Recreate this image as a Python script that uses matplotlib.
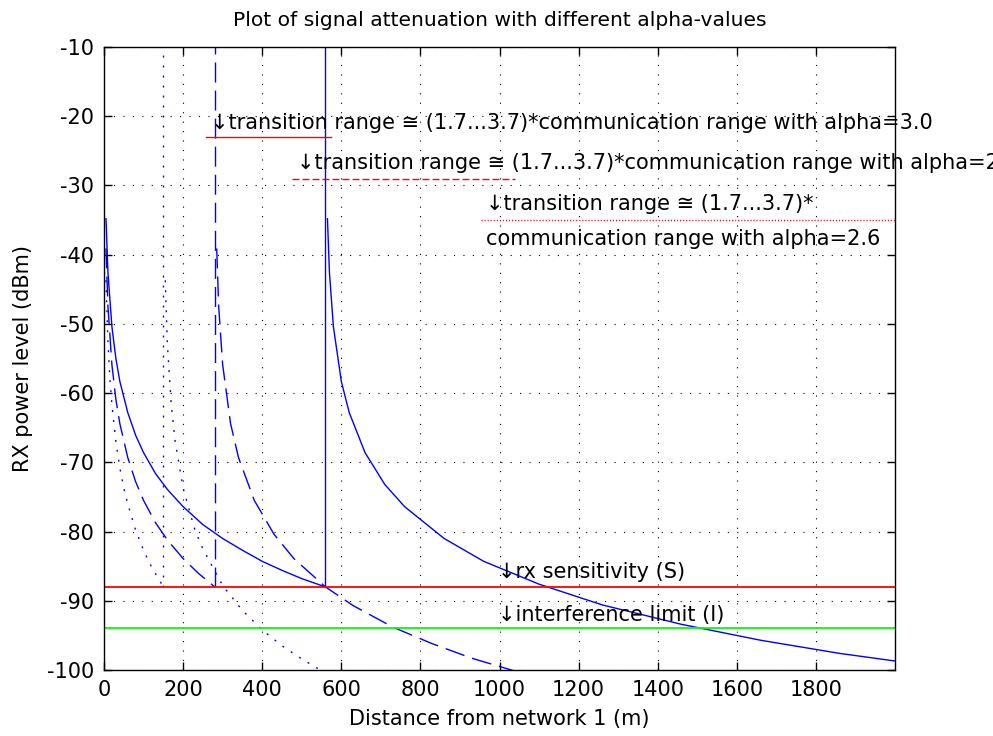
import matplotlib
matplotlib.use("Agg")
import matplotlib.pyplot as plt
import matplotlib.transforms as mtransforms

# ---------------- data ----------------
# curves left of communication range (signal from network 1)
x_solid_left = [5, 10, 20, 30, 40, 60, 80, 100, 130, 160, 200, 250, 300, 350, 400, 450, 500, 560]
y_solid_left = [-34.8, -42.6, -50.4, -55.0, -58.3, -62.8, -66.1, -68.6, -71.6, -73.9, -76.4,
                -79.0, -81.0, -82.7, -84.3, -85.6, -86.8, -88.0]

x_dashed_left = [5, 10, 20, 30, 40, 60, 80, 100, 130, 160, 200, 240, 280]
y_dashed_left = [-39.1, -47.5, -55.9, -60.9, -64.4, -69.3, -72.8, -75.5, -78.7, -81.2, -83.9, -86.1, -88.0]

x_dotted_left = [5, 10, 15, 20, 30, 40, 50, 60, 80, 100, 120, 150]
y_dotted_left = [-43.7, -52.7, -58.0, -61.7, -67.0, -70.8, -73.7, -76.0, -79.8, -82.7, -85.1, -88.0]

# curves right of communication range
x_solid_right = [565, 570, 580, 600, 620, 660, 710, 760, 860, 960, 1100, 1260, 1460, 1660, 1860, 2000]
y_solid_right = [-34.8, -42.6, -50.4, -58.3, -62.8, -68.6, -73.2, -76.4, -81.0, -84.3, -87.6,
                 -90.6, -93.4, -95.7, -97.6, -98.7]

x_dashed_right = [285, 290, 300, 320, 340, 380, 430, 480, 560, 630, 730, 830, 930, 1030, 1080]
y_dashed_right = [-39.1, -47.5, -55.9, -64.4, -69.3, -75.5, -80.4, -83.9, -88.0, -90.7, -93.8,
                  -96.2, -98.3, -100.0, -100.8]

x_dotted_right = [155, 160, 170, 180, 200, 230, 250, 300, 350, 400, 450, 500, 550, 600]
y_dotted_right = [-43.7, -52.7, -61.7, -67.0, -73.7, -79.8, -82.5, -87.8, -91.4, -94.2, -96.5, -98.4, -100.1, -101.6]

# communication ranges (vertical markers) for alpha = 2.6, 2.8, 3.0
comm_range = [560, 280, 150]
rx_sensitivity = -88
interference_limit = -94

# transition range bars: (start, end, level)
trans_start = [258, 476, 952]
trans_end = [575, 1040, 2072]
trans_level = [-23, -29, -35]

x_ticks = [0, 200, 400, 600, 800, 1000, 1200, 1400, 1600, 1800]
y_ticks = [-100, -90, -80, -70, -60, -50, -40, -30, -20, -10]

# ---------------- styling ----------------
plt.rcParams["font.family"] = ["DejaVu Sans"]
plt.rcParams["font.size"] = 15
plt.rcParams["lines.scale_dashes"] = False
plt.rcParams["axes.unicode_minus"] = False

DASH = (0, (14.4, 5.8))
DOT = (0, (1.4, 5.8))

fig = plt.figure(figsize=(9.93, 7.36), dpi=100)
ax = fig.add_axes([104 / 993, 66 / 736, 791 / 993, 623 / 736])

blue = (0, 0, 1)
lw = 1.0
ax.plot(x_solid_left, y_solid_left, color=blue, lw=lw, ls="-")
ax.plot(x_dashed_left, y_dashed_left, color=blue, lw=lw, ls=DASH)
ax.plot(x_dotted_left, y_dotted_left, color=blue, lw=lw, ls=DOT)
ax.plot(x_solid_right, y_solid_right, color=blue, lw=lw, ls="-")
ax.plot(x_dashed_right, y_dashed_right, color=blue, lw=lw, ls=DASH)
ax.plot(x_dotted_right, y_dotted_right, color=blue, lw=lw, ls=DOT)

for r, ls in zip(comm_range, ["-", DASH, DOT]):
    ax.plot([r, r], [rx_sensitivity, 0], color=blue, lw=lw, ls=ls)

ax.axhline(rx_sensitivity, color=(1, 0, 0), lw=1.3)
ax.axhline(interference_limit, color=(0, 1, 0), lw=1.3)

red_styles = ["-", (0, (5.0, 2.2)), (0, (0.8, 1.4))]
for s, e, lev, ls in zip(trans_start, trans_end, trans_level, red_styles):
    ax.plot([s, e], [lev, lev], color=(1, 0, 0), lw=1.0, ls=ls)

off = mtransforms.offset_copy(ax.transData, fig=fig, x=5, y=0, units="dots")
kw = dict(transform=off, ha="left", va="center", fontsize=15, clip_on=False)
ax.text(258, -21.0, "\u2193transition range \u2245 (1.7...3.7)*communication range with alpha=3.0", **kw)
ax.text(476, -26.7, "\u2193transition range \u2245 (1.7...3.7)*communication range with alpha=2.8", **kw)
ax.text(952, -32.7, "\u2193transition range \u2245 (1.7...3.7)*", **kw)
ax.text(952, -37.8, "communication range with alpha=2.6", **kw)
ax.text(983, -85.9, "\u2193rx sensitivity (S)", **kw)
ax.text(983, -92.0, "\u2193interference limit (I)", **kw)

ax.set_xlim(0, 2000)
ax.set_ylim(-100, -10)
ax.set_xticks(x_ticks)
ax.set_yticks(y_ticks)
ax.grid(True, color="k", ls=(0, (0.8, 6.0)), lw=0.8)
ax.tick_params(direction="in", length=5.8, width=1.0, top=True, right=True, pad=7,
               labelsize=15)
for sp in ax.spines.values():
    sp.set_linewidth(1.0)

ax.set_title("Plot of signal attenuation with different alpha-values", fontsize=14.6, pad=15)
ax.set_xlabel("Distance from network 1 (m)", fontsize=15, labelpad=7)
ax.set_ylabel("RX power level (dBm)", fontsize=15, labelpad=10)

fig.savefig("out.png", dpi=100)
